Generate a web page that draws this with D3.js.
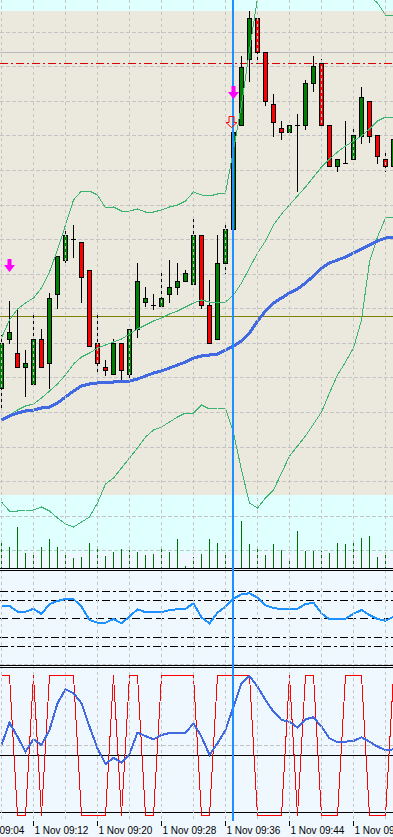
<!DOCTYPE html>
<html><head><meta charset="utf-8">
<script src="https://cdn.jsdelivr.net/npm/d3@7"></script>
<style>body{margin:0;background:#F0F8FF}svg{display:block}</style>
</head><body>
<svg id="chart" width="393" height="837"></svg>
<script>
// ---------------- DATA ----------------
const times = ["09:08","09:09","09:10","09:11","09:12","09:13","09:14","09:15","09:16","09:17","09:18","09:19","09:20","09:21","09:22","09:23","09:24","09:25","09:26","09:27","09:28","09:29","09:30","09:31","09:32","09:33","09:34","09:35","09:36","09:37","09:38","09:39","09:40","09:41","09:42","09:43","09:44","09:45","09:46","09:47","09:48","09:49","09:50","09:51","09:52","09:53","09:54","09:55","09:56","09:57"];
const open  = [1.09162,1.09211,1.09197,1.09183,1.09166,1.09211,1.09187,1.09256,1.09290,1.09311,1.09308,1.09280,1.09207,1.09183,1.09176,1.09207,1.09176,1.09221,1.09248,1.09245,1.09244,1.09256,1.09263,1.09269,1.09266,1.09315,1.09245,1.09211,1.09287,1.09321,1.09425,1.09491,1.09532,1.09498,1.09446,1.09422,1.09418,1.09425,1.09425,1.09467,1.09487,1.09425,1.09384,1.09387,1.09391,1.09414,1.09449,1.09415,1.09391,1.09384];
const high  = [1.09215,1.09249,1.09242,1.09200,1.09235,1.09221,1.09257,1.09294,1.09321,1.09325,1.09308,1.09280,1.09238,1.09190,1.09211,1.09207,1.09221,1.09287,1.09263,1.09256,1.09280,1.09290,1.09287,1.09280,1.09332,1.09315,1.09270,1.09315,1.09325,1.09418,1.09494,1.09539,1.09532,1.09498,1.09456,1.09429,1.09425,1.09436,1.09470,1.09494,1.09491,1.09425,1.09391,1.09429,1.09422,1.09463,1.09449,1.09415,1.09398,1.09411];
const low   = [1.09142,1.09207,1.09183,1.09154,1.09166,1.09183,1.09162,1.09242,1.09288,1.09293,1.09248,1.09204,1.09179,1.09175,1.09176,1.09168,1.09173,1.09213,1.09244,1.09241,1.09244,1.09248,1.09256,1.09269,1.09266,1.09242,1.09207,1.09211,1.09277,1.09318,1.09425,1.09469,1.09487,1.09445,1.09414,1.09411,1.09418,1.09359,1.09421,1.09459,1.09425,1.09384,1.09379,1.09387,1.09391,1.09407,1.09408,1.09387,1.09379,1.09384];
const close = [1.09207,1.09218,1.09183,1.09187,1.09211,1.09183,1.09252,1.09294,1.09315,1.09311,1.09273,1.09204,1.09187,1.09180,1.09207,1.09180,1.09221,1.09269,1.09252,1.09245,1.09252,1.09263,1.09269,1.09277,1.09315,1.09245,1.09207,1.09287,1.09321,1.09418,1.09483,1.09532,1.09498,1.09449,1.09428,1.09418,1.09425,1.09425,1.09467,1.09484,1.09425,1.09384,1.09391,1.09387,1.09415,1.09453,1.09414,1.09394,1.09384,1.09411];
const volume = [50,42,82,30,32,42,58,42,28,20,22,50,40,24,32,38,36,32,26,28,38,32,58,4,22,28,58,50,30,96,94,48,38,26,48,36,16,74,34,34,34,30,50,48,52,60,64,22,26,30];

const bbUpper  = [1.09212,1.09230,1.09241,1.09247,1.09252,1.09262,1.09278,1.09300,1.09325,1.09350,1.09359,1.09359,1.09355,1.09342,1.09343,1.09339,1.09339,1.09341,1.09338,1.09338,1.09340,1.09343,1.09345,1.09349,1.09358,1.09355,1.09354,1.09356,1.09357,1.09400,1.09445,1.09500,1.09552,1.09566,1.09590,1.09595,1.09596,1.09604,1.09612,1.09620,1.09628,1.09625,1.09621,1.09620,1.09616,1.09598,1.09554,1.09547,1.09535,1.09535];
const bbMiddle = [1.09130,1.09135,1.09140,1.09144,1.09146,1.09152,1.09159,1.09166,1.09175,1.09186,1.09193,1.09197,1.09202,1.09205,1.09208,1.09211,1.09216,1.09221,1.09225,1.09229,1.09232,1.09236,1.09239,1.09243,1.09247,1.09250,1.09248,1.09248,1.09248,1.09255,1.09267,1.09282,1.09297,1.09309,1.09325,1.09336,1.09345,1.09354,1.09363,1.09373,1.09383,1.09391,1.09398,1.09404,1.09409,1.09414,1.09421,1.09429,1.09433,1.09433];
const bbLower  = [1.09048,1.09039,1.09039,1.09040,1.09040,1.09043,1.09039,1.09032,1.09026,1.09023,1.09028,1.09033,1.09047,1.09066,1.09072,1.09082,1.09092,1.09102,1.09113,1.09120,1.09123,1.09128,1.09133,1.09137,1.09137,1.09145,1.09141,1.09142,1.09142,1.09117,1.09080,1.09047,1.09042,1.09052,1.09060,1.09077,1.09094,1.09104,1.09114,1.09126,1.09138,1.09157,1.09175,1.09188,1.09202,1.09230,1.09288,1.09313,1.09332,1.09333];
const maSlow   = [1.09130,1.09134,1.09137,1.09139,1.09140,1.09142,1.09143,1.09147,1.09153,1.09159,1.09164,1.09166,1.09167,1.09168,1.09168,1.09169,1.09169,1.09171,1.09174,1.09177,1.09179,1.09182,1.09185,1.09188,1.09192,1.09194,1.09195,1.09196,1.09200,1.09204,1.09209,1.09217,1.09229,1.09239,1.09247,1.09252,1.09257,1.09261,1.09267,1.09274,1.09282,1.09287,1.09290,1.09293,1.09297,1.09301,1.09305,1.09309,1.09312,1.09313];

const rsi = [63.5,63.5,57.3,57.3,60.5,54.8,65.6,68.8,71.0,71.0,62.7,48.3,45.4,45.4,49.4,44.8,52.1,59.9,56.7,56.7,56.7,59.1,59.9,60.5,66.4,51.3,44.8,56.2,62.7,71.3,76.1,77.2,72.4,64.2,61.3,59.9,59.9,60.5,65.6,67.0,55.6,49.1,49.4,49.7,55.1,59.1,53.7,49.4,47.6,51.9];
const rsiLevels = [80,70,50,30,20];
const rsiGrid = [0];

const stochMain   = [100,100,0,0,100,0,100,100,100,100,0,0,0,0,100,0,100,100,0,0,100,100,100,100,100,0,0,100,100,100,100,100,0,0,0,0,100,0,100,100,0,0,0,100,100,100,0,0,0,100];
const stochSignal = [50,65.9,55.9,45.2,54.1,50,60.7,79.8,89.8,86.9,79.8,63.1,47.6,36.4,40.9,37.4,43.6,58.8,56.4,54.1,57.1,58.6,58.8,58.8,65.4,55.9,42.9,51.2,60.7,77.4,94.1,99.3,91.6,82.1,73.8,67.9,66.6,62.4,68.4,69.8,63.1,54.8,51.9,52.4,52.9,55.5,52.4,48.8,46.4,46.9];
const stochLevels = [43,2];
const stochGrid = [50];

const priceGrid = [1.09518,1.09484,1.09449,1.09415,1.09380,1.09345,1.09311,1.09276,1.09242,1.09207,1.09173,1.09138,1.09103,1.09069,1.09034,1.09000];
const hLinePrices = [1.09498,1.09487,1.09234];
const zoneTop = [1.09600,1.09539];
const zoneBottom = [1.08997,1.09055];
const vLineTime = "09:37";
const arrowTimes = ["09:09","09:37"];
const arrowPrices = [1.09291,1.09464];
const hollowArrowTime = "09:37";
const hollowArrowPrice = 1.09434;
const tickLabels = ["09:04","09:12","09:20","09:28","09:36","09:44","09:52"];
const dateLabel = "1 Nov";

// ---------------- STYLE ----------------
const W = 393, H = 837;
const zoneColors = ["#E0FFFF","#EBE9DD"];
const hLineStyles = [{c:"#B8B8B8",d:null},{c:"#E00000",d:"8,3,2,3"},{c:"#808000",d:null}];
const gridColor = "#C4C4C4";

// ---------------- SCALES ----------------
const parse = d3.timeParse("%H:%M");
const tDates = times.map(parse);
const x = d3.scaleTime().domain([tDates[0], tDates[tDates.length-1]]).range([1.5, 1.5 + 8*(times.length-1)]);
const yP = d3.scaleLinear().domain([1.08982, 1.09550]).range([568, 0]);
const yV = d3.scaleLinear().domain([0, 100]).range([568, 518]);
const yR = d3.scaleLinear().domain([0, 100]).range([664.8, 572.13]);
const yS = d3.scaleLinear().domain([0, 100]).range([815, 675]);
const sn = v => Math.round(v) + 0.5;

const svg = d3.select("#chart");
svg.append("rect").attr("width", W).attr("height", H).attr("fill", "#F0F8FF");
const defs = svg.append("defs");
function clip(id, y0, y1){ defs.append("clipPath").attr("id", id).append("rect").attr("x",0).attr("y",y0).attr("width",W).attr("height",y1-y0); }
clip("cMain", 0, 568); clip("cS1", 571, 665); clip("cS2", 668, 821);

const gMain = svg.append("g").attr("clip-path","url(#cMain)");
const gS1 = svg.append("g").attr("clip-path","url(#cS1)");
const gS2 = svg.append("g").attr("clip-path","url(#cS2)");

// zones
zoneTop.forEach((t,i)=>{
  const y0 = Math.round(yP(t)), y1 = Math.round(yP(zoneBottom[i]));
  gMain.append("rect").attr("x",0).attr("width",W).attr("y",y0).attr("height",y1-y0).attr("fill",zoneColors[i]);
});

// vertical grid
const gridTimes = x.ticks(d3.timeMinute.every(4));
svg.append("g").selectAll("line").data(gridTimes).join("line")
  .attr("x1", d=>x(d)).attr("x2", d=>x(d)).attr("y1", 0).attr("y2", 821)
  .attr("stroke", gridColor).attr("stroke-dasharray","3,3").attr("shape-rendering","crispEdges");

// horizontal grids
gMain.append("g").selectAll("line").data(priceGrid).join("line")
  .attr("x1",0).attr("x2",W).attr("y1",d=>sn(yP(d))).attr("y2",d=>sn(yP(d)))
  .attr("stroke",gridColor).attr("stroke-dasharray","4,2").attr("shape-rendering","crispEdges");
gS1.append("g").selectAll("line").data(rsiGrid).join("line")
  .attr("x1",0).attr("x2",W).attr("y1",d=>sn(yR(d))-1).attr("y2",d=>sn(yR(d))-1)
  .attr("stroke",gridColor).attr("stroke-dasharray","4,2").attr("shape-rendering","crispEdges");
gS2.append("g").selectAll("line").data(stochGrid).join("line")
  .attr("x1",0).attr("x2",W).attr("y1",d=>sn(yS(d))).attr("y2",d=>sn(yS(d)))
  .attr("stroke",gridColor).attr("stroke-dasharray","4,2").attr("shape-rendering","crispEdges");

// horizontal price lines
hLinePrices.forEach((p,i)=>{
  const l = gMain.append("line").attr("x1",0).attr("x2",W).attr("y1",sn(yP(p))).attr("y2",sn(yP(p)))
    .attr("stroke",hLineStyles[i].c).attr("shape-rendering","crispEdges");
  if (hLineStyles[i].d) l.attr("stroke-dasharray",hLineStyles[i].d);
});

// candles
const bars = times.map((t,i)=>({t:tDates[i], o:open[i], h:high[i], l:low[i], c:close[i], v:volume[i]}));
const gC = gMain.append("g").attr("shape-rendering","crispEdges");
bars.forEach(b=>{
  const cx = x(b.t);
  gC.append("line").attr("x1",cx).attr("x2",cx).attr("y1",Math.round(yP(b.h))).attr("y2",Math.round(yP(b.l))+1).attr("stroke","#000");
  const yo = Math.round(yP(b.o)), yc = Math.round(yP(b.c));
  if (yo === yc) {
    gC.append("line").attr("x1",cx-2.5).attr("x2",cx+2.5).attr("y1",yo+0.5).attr("y2",yo+0.5).attr("stroke","#000");
  } else {
    gC.append("rect").attr("x",cx-2).attr("width",4).attr("y",Math.min(yo,yc)+0.5).attr("height",Math.abs(yo-yc))
      .attr("fill", b.c > b.o ? "#008000" : "#FF0000").attr("stroke","#000");
  }
});

// indicator lines
const lineP = d3.line().x((d,i)=>x(tDates[i])).y(d=>yP(d));
[bbUpper, bbMiddle, bbLower].forEach(s=>{
  gMain.append("path").attr("d", lineP(s)).attr("fill","none").attr("stroke","#3CB371").attr("stroke-width",1).attr("shape-rendering","crispEdges");
});
gMain.append("path").attr("d", lineP(maSlow)).attr("fill","none").attr("stroke","#4169E1").attr("stroke-width",3).attr("shape-rendering","crispEdges");

// volumes
gMain.append("g").selectAll("rect").data(bars).join("rect")
  .attr("x", d=>x(d.t)-0.5).attr("width",1).attr("y", d=>Math.round(yV(d.v))).attr("height", d=>568-Math.round(yV(d.v)))
  .attr("fill","#007000").attr("shape-rendering","crispEdges");

// sub window 1
rsiLevels.forEach(v=>{
  gS1.append("line").attr("x1",0).attr("x2",W).attr("y1",sn(yR(v))).attr("y2",sn(yR(v)))
    .attr("stroke","#000").attr("stroke-dasharray", v===50 ? "8,4" : "8,3,3,3").attr("shape-rendering","crispEdges");
});
const lineR = d3.line().x((d,i)=>x(tDates[i])).y(d=>yR(d));
gS1.append("path").attr("d", lineR(rsi)).attr("fill","none").attr("stroke","#1E90FF").attr("stroke-width",2).attr("shape-rendering","crispEdges");

// sub window 2
stochLevels.forEach(v=>{
  gS2.append("line").attr("x1",0).attr("x2",W).attr("y1",sn(yS(v))).attr("y2",sn(yS(v)))
    .attr("stroke","#000").attr("shape-rendering","crispEdges");
});
const lineS = d3.line().x((d,i)=>x(tDates[i])).y(d=>sn(yS(d)));
gS2.append("path").attr("d", lineS(stochMain)).attr("fill","none").attr("stroke","#FF0000").attr("stroke-width",1).attr("shape-rendering","crispEdges");
const lineS2 = d3.line().x((d,i)=>x(tDates[i])).y(d=>yS(d));
gS2.append("path").attr("d", lineS2(stochSignal)).attr("fill","none").attr("stroke","#4169E1").attr("stroke-width",2).attr("shape-rendering","crispEdges");

// window separators
[568.5,570.5,665.5,667.5].forEach(y=>{
  svg.append("line").attr("x1",0).attr("x2",W).attr("y1",y).attr("y2",y).attr("stroke","#000").attr("shape-rendering","crispEdges");
});

// vertical line
const vx = x(parse(vLineTime)) - 0.5;
svg.append("line").attr("x1",vx).attr("x2",vx).attr("y1",0).attr("y2",821).attr("stroke","#1E90FF").attr("stroke-width",2).attr("shape-rendering","crispEdges");

// arrows
arrowTimes.forEach((t,i)=>{
  const cx = x(parse(t)), top = Math.round(yP(arrowPrices[i]));
  svg.append("path").attr("d",`M${cx-2},${top} h4 v6 h3.5 l-5.5,7 l-5.5,-7 h3.5 Z`).attr("fill","#FF00FF");
});
{
  const cx = x(parse(hollowArrowTime)) - 2, top = Math.round(yP(hollowArrowPrice)) + 0.5;
  svg.append("path").attr("d",`M${cx-2.5},${top} h5 v6 h3 l-5.5,5 l-5.5,-5 h3 Z`).attr("fill","none").attr("stroke","#FF0000").attr("stroke-width",1);
}

// time axis
const gA = svg.append("g");
tickLabels.forEach(t=>{
  const tx = x(parse(t));
  gA.append("line").attr("x1",tx).attr("x2",tx).attr("y1",821).attr("y2",826).attr("stroke","#000").attr("shape-rendering","crispEdges");
  gA.append("text").attr("x",tx+1).attr("y",834).attr("font-family","'Liberation Sans', Arial, sans-serif").attr("font-size","10px").attr("fill","#000").text(`${dateLabel} ${t}`);
});
</script>
</body></html>
